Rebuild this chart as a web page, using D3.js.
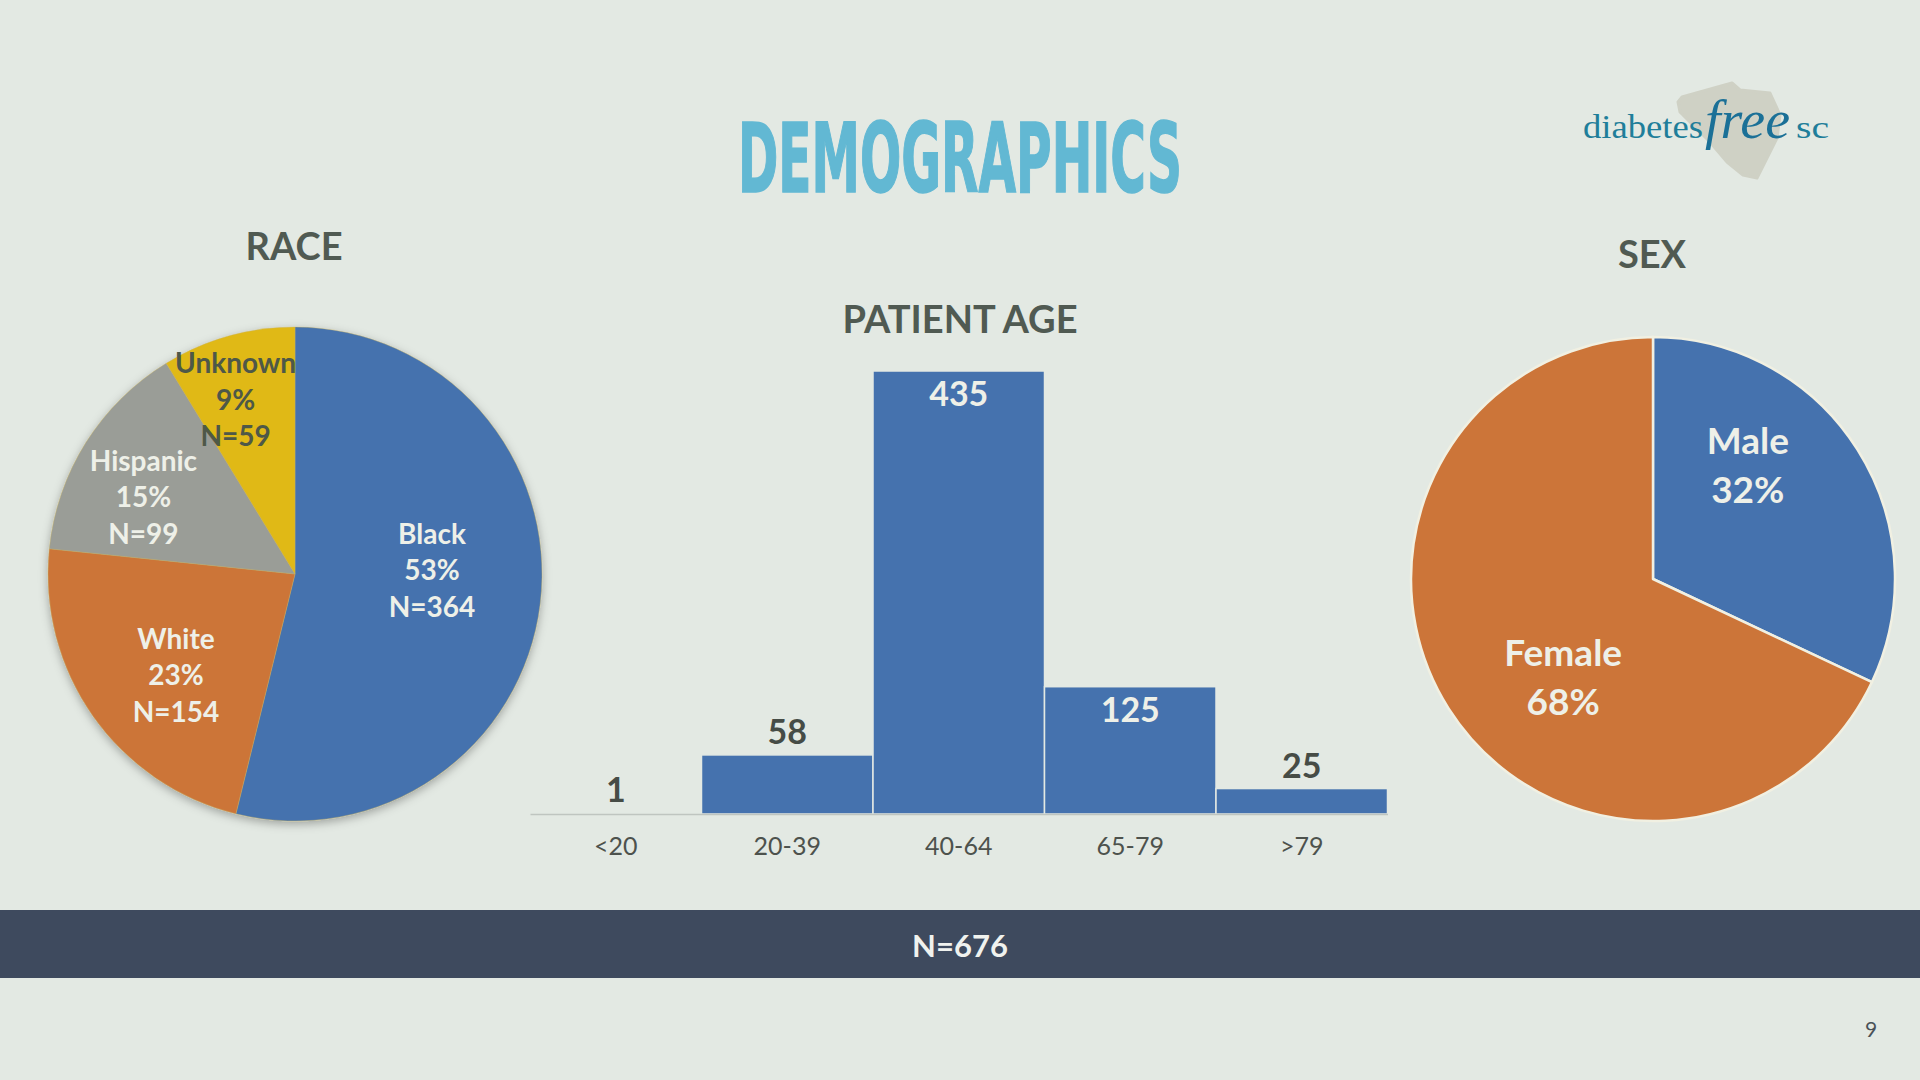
<!DOCTYPE html>
<html>
<head>
<meta charset="utf-8">
<title>Demographics</title>
<script src="https://cdn.jsdelivr.net/npm/d3@7"></script>
<style>
    html, body { margin: 0; padding: 0; background: #e3e9e3; }
    svg { display: block; }
</style>
</head>
<body>
<div id="slide"></div>
<script>
// Data
const raceCategories = ["Black", "White", "Hispanic", "Unknown"];
const raceCounts = [364, 154, 99, 59];
const racePercents = ["53%", "23%", "15%", "9%"];

const ageGroups = ["<20", "20-39", "40-64", "65-79", ">79"];
const ageCounts = [1, 58, 435, 125, 25];

const sexCategories = ["Male", "Female"];
const sexPercents = [32, 68];

const totalN = 676;

// Colours
const blue = "#4572ae", orange = "#cc7539", grey = "#9a9d97", yellow = "#e0b917";
const raceColors = { Black: blue, White: orange, Hispanic: grey, Unknown: yellow };
const sexColors = { Male: blue, Female: orange };
const headColor = "#505a52";
const lightText = "#eef0e8";
const darkText = "#4e5848";
const uiFont = "Lato, 'Open Sans', sans-serif";
const serifFont = "'Liberation Serif', 'DejaVu Serif', serif";

const W = 1920, H = 1080;

const svg = d3.select("#slide").append("svg")
    .attr("width", W)
    .attr("height", H);

svg.append("rect")
    .attr("width", W)
    .attr("height", H)
    .attr("fill", "#e3e9e3");

const defs = svg.append("defs");
const shadow = defs.append("filter")
    .attr("id", "pie-shadow")
    .attr("x", "-20%").attr("y", "-20%")
    .attr("width", "140%").attr("height", "140%");
shadow.append("feDropShadow")
    .attr("dx", 0).attr("dy", 3)
    .attr("stdDeviation", 5)
    .attr("flood-color", "#000")
    .attr("flood-opacity", 0.3);

// Title
svg.append("text")
    .attr("x", 960)
    .attr("y", 192)
    .attr("text-anchor", "middle")
    .attr("textLength", 444)
    .attr("lengthAdjust", "spacingAndGlyphs")
    .attr("font-family", "'DejaVu Sans Condensed', Roboto, sans-serif")
    .attr("font-weight", "bold")
    .attr("font-size", 96)
    .attr("fill", "#62b8d3")
    .attr("stroke", "#62b8d3")
    .attr("stroke-width", 1.5)
    .text("DEMOGRAPHICS");

// Logo (state outline behind the word mark)
const logo = svg.append("g").attr("class", "logo");
const stateShape = [[1682, 97], [1732, 83], [1740, 90], [1770, 93], [1780, 115], [1777, 138],
    [1767, 158], [1757, 178], [1743, 175], [1727, 162], [1710, 142], [1693, 125],
    [1680, 112], [1678, 102]];
logo.append("path")
    .attr("d", d3.line().curve(d3.curveLinearClosed)(stateShape))
    .attr("fill", "#cfd1c5")
    .attr("stroke", "#cfd1c5")
    .attr("stroke-width", 3)
    .attr("stroke-linejoin", "round");
logo.append("text")
    .attr("x", 1583).attr("y", 138)
    .attr("textLength", 120)
    .attr("lengthAdjust", "spacingAndGlyphs")
    .attr("font-family", serifFont)
    .attr("font-size", 34)
    .attr("fill", "#1f7e9a")
    .text("diabetes");
logo.append("text")
    .attr("x", 1705).attr("y", 138)
    .attr("textLength", 85)
    .attr("lengthAdjust", "spacingAndGlyphs")
    .attr("font-family", serifFont)
    .attr("font-style", "italic")
    .attr("font-size", 54)
    .attr("fill", "#1b7097")
    .text("free");
logo.append("text")
    .attr("x", 1796).attr("y", 138)
    .attr("textLength", 33)
    .attr("lengthAdjust", "spacingAndGlyphs")
    .attr("font-family", serifFont)
    .attr("font-size", 32)
    .attr("fill", "#1f7e9a")
    .text("sc");

// Section headings
function heading(x, y, label) {
    svg.append("text")
        .attr("x", x).attr("y", y)
        .attr("text-anchor", "middle")
        .attr("font-family", uiFont)
        .attr("font-weight", "bold")
        .attr("font-size", 38)
        .attr("fill", headColor)
        .text(label);
}
heading(294, 260, "RACE");
heading(960, 333, "PATIENT AGE");
heading(1652, 268, "SEX");

// Multi-line label helper
function multiLine(g, x, y, lines, size, gap, color) {
    const t = g.append("text")
        .attr("text-anchor", "middle")
        .attr("font-family", uiFont)
        .attr("font-weight", "bold")
        .attr("font-size", size)
        .attr("fill", color);
    const first = -(lines.length - 1) / 2 * gap;
    lines.forEach((line, i) => {
        t.append("tspan")
            .attr("x", x)
            .attr("y", y + first + i * gap)
            .attr("dominant-baseline", "central")
            .text(line);
    });
}

const deg = Math.PI / 180;

// ---- Race pie ----
const raceData = raceCategories.map((c, i) => ({ category: c, value: raceCounts[i], pct: racePercents[i] }));
const raceCx = 295, raceCy = 574, raceR = 247;
// label placement (fraction of radius, angle offset from slice middle)
const raceLabelRadius = { Black: 0.555, White: 0.63, Hispanic: 0.69, Unknown: 0.75 };
const raceLabelShift = { Black: -9, White: -5, Hispanic: -5, Unknown: -3 };

const racePie = d3.pie().sort(null).value(d => d.value);
const raceArc = d3.arc().innerRadius(0).outerRadius(raceR);
const raceG = svg.append("g").attr("transform", `translate(${raceCx},${raceCy})`);

raceG.append("g")
    .attr("filter", "url(#pie-shadow)")
    .selectAll("path")
    .data(racePie(raceData))
    .join("path")
    .attr("d", raceArc)
    .attr("fill", d => raceColors[d.data.category])
    .attr("stroke", "#c8b060")
    .attr("stroke-width", 0.4);

racePie(raceData).forEach(d => {
    const c = d.data.category;
    const a = (d.startAngle + d.endAngle) / 2 + raceLabelShift[c] * deg;
    const r = raceR * raceLabelRadius[c];
    const color = c === "Unknown" ? darkText : lightText;
    multiLine(raceG, r * Math.sin(a), -r * Math.cos(a),
        [c, d.data.pct, `N=${d.data.value}`], 28, 36.5, color);
});

// ---- Patient age bars ----
const x = d3.scaleBand()
    .domain(ageGroups)
    .range([530, 1387.5])
    .padding(0);

const y = d3.scaleLinear()
    .domain([0, d3.max(ageCounts)])
    .range([814, 371]);

const ageData = ageGroups.map((g, i) => ({ group: g, value: ageCounts[i] }));
const barG = svg.append("g");

barG.selectAll(".bar")
    .data(ageData)
    .join("rect")
    .attr("class", "bar")
    .attr("x", d => x(d.group))
    .attr("y", d => y(d.value))
    .attr("width", x.bandwidth())
    .attr("height", d => y(0) - y(d.value))
    .attr("fill", blue)
    .attr("stroke", "#e3e9e3")
    .attr("stroke-width", 1.5);

const xAxis = barG.append("g")
    .attr("transform", `translate(0,${y(0)})`)
    .call(d3.axisBottom(x).tickSize(0).tickPadding(41));
xAxis.select(".domain")
    .attr("stroke", "#bfc5c0")
    .attr("stroke-width", 1.5);
xAxis.selectAll("text")
    .attr("font-family", uiFont)
    .attr("font-size", 25)
    .attr("fill", "#4d524d")
    .attr("dy", 0);

// value labels: inside the bar when it is tall enough
const inside = d => y(0) - y(d.value) > 100;
barG.selectAll(".value")
    .data(ageData)
    .join("text")
    .attr("class", "value")
    .attr("x", d => x(d.group) + x.bandwidth() / 2)
    .attr("y", d => inside(d) ? y(d.value) + 35 : y(d.value) - 11)
    .attr("text-anchor", "middle")
    .attr("font-family", uiFont)
    .attr("font-weight", "bold")
    .attr("font-size", 34)
    .attr("fill", d => inside(d) ? lightText : "#464c46")
    .text(d => d.value);

// ---- Sex pie ----
const sexData = sexCategories.map((c, i) => ({ category: c, value: sexPercents[i] }));
const sexCx = 1653, sexCy = 579, sexR = 242;
const sexLabelRadius = 0.59;
const sexLabelShift = -16 * deg;
const sexLabelNudge = { Male: [0, -8], Female: [5, -10] };

const sexPie = d3.pie().sort(null).value(d => d.value);
const sexArc = d3.arc().innerRadius(0).outerRadius(sexR);
const sexG = svg.append("g").attr("transform", `translate(${sexCx},${sexCy})`);

sexG.selectAll("path")
    .data(sexPie(sexData))
    .join("path")
    .attr("d", sexArc)
    .attr("fill", d => sexColors[d.data.category])
    .attr("stroke", "#f1f0e2")
    .attr("stroke-width", 2.5)
    .attr("stroke-linejoin", "round");

sexPie(sexData).forEach(d => {
    const a = (d.startAngle + d.endAngle) / 2 + sexLabelShift;
    const r = sexR * sexLabelRadius;
    const [nx, ny] = sexLabelNudge[d.data.category];
    multiLine(sexG, r * Math.sin(a) + nx, -r * Math.cos(a) + ny,
        [d.data.category, `${d.data.value}%`], 37, 49, lightText);
});

// ---- Footer band ----
svg.append("rect")
    .attr("x", 0).attr("y", 910)
    .attr("width", W).attr("height", 68)
    .attr("fill", "#3e4a5e");

svg.append("text")
    .attr("x", 960).attr("y", 957)
    .attr("text-anchor", "middle")
    .attr("font-family", uiFont)
    .attr("font-weight", "bold")
    .attr("font-size", 31)
    .attr("fill", "#f0f2ee")
    .text(`N=${totalN}`);

// page number
svg.append("text")
    .attr("x", 1871).attr("y", 1037)
    .attr("text-anchor", "middle")
    .attr("font-family", uiFont)
    .attr("font-size", 21)
    .attr("fill", "#4a5258")
    .text("9");
</script>
</body>
</html>
